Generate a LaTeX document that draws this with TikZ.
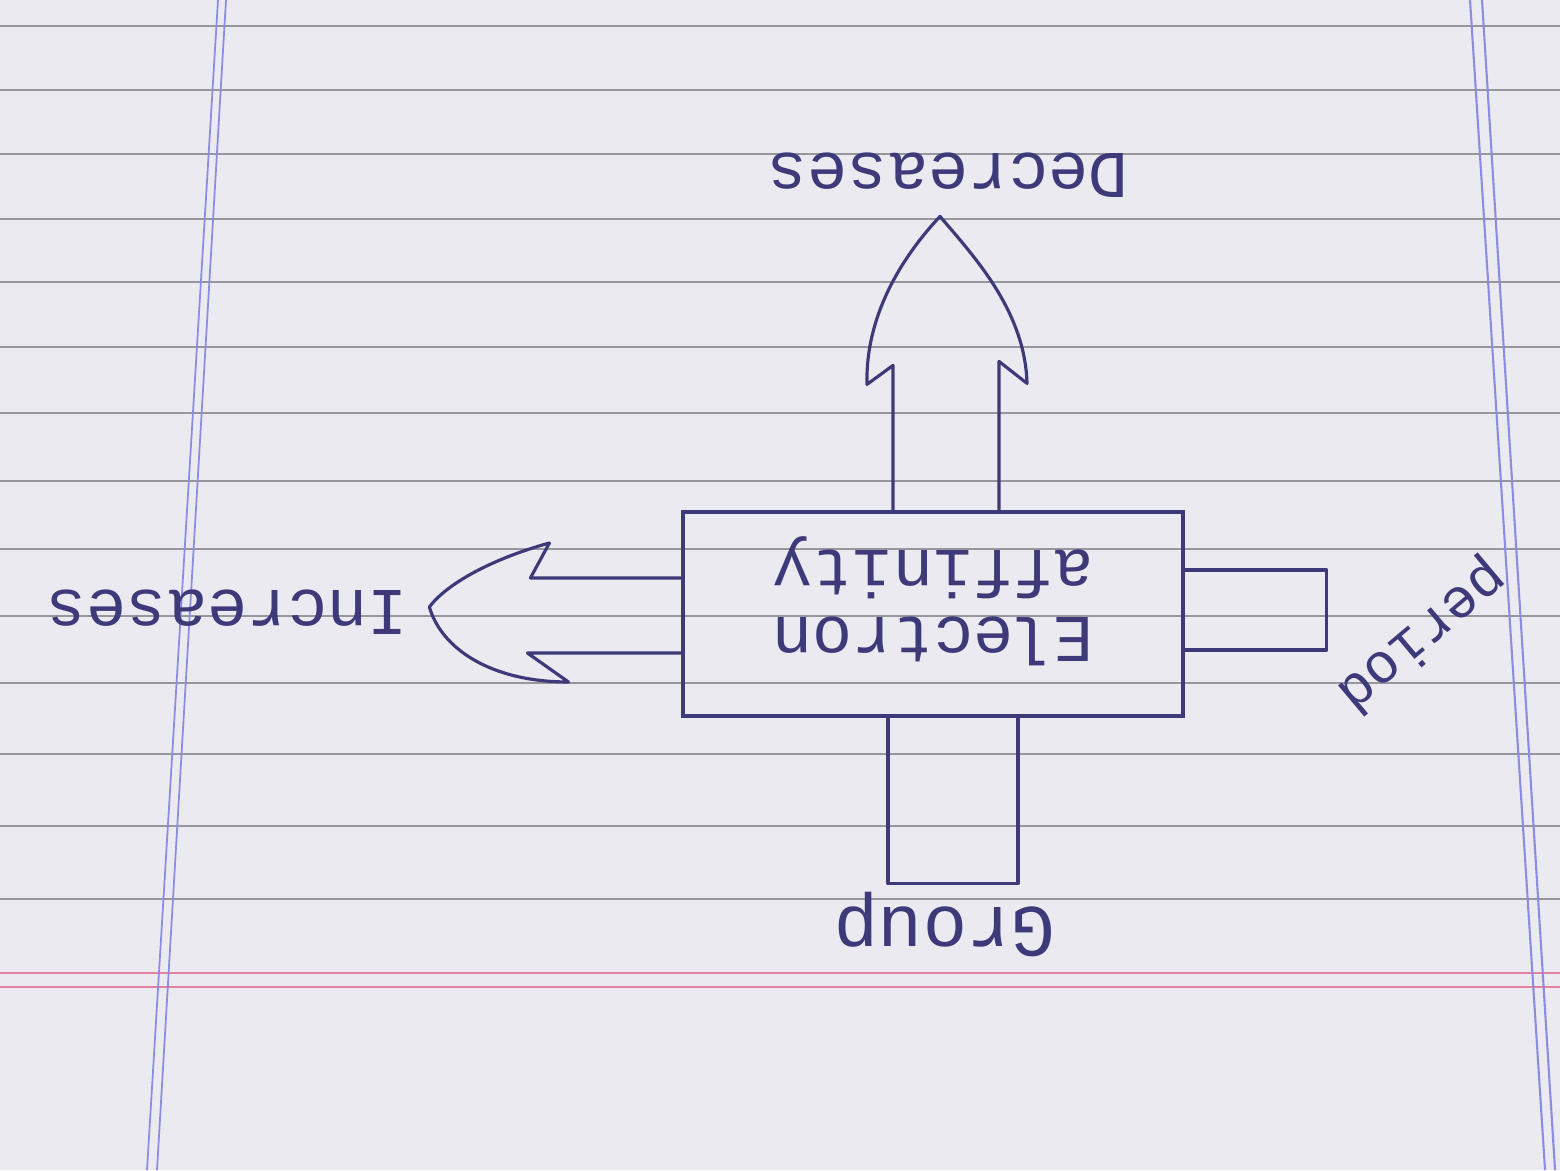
\documentclass[tikz,border=0pt]{standalone}
\usepackage{fontspec}
\newfontfamily\handfont{Liberation Mono}
\usepackage{xcolor}
\usepackage{tikz}
\usetikzlibrary{positioning}

\definecolor{ink}{RGB}{62,58,122}
\definecolor{paper}{RGB}{234,234,240}
\definecolor{rulegray}{RGB}{150,150,156}
\definecolor{marginblue}{RGB}{140,140,225}
\definecolor{marginred}{RGB}{228,130,160}

\begin{document}
\begin{tikzpicture}[
    eabox/.style={rectangle, draw=ink, line width=0.9pt, minimum width=5cm,
                minimum height=2.04cm, inner sep=0pt},
    lbl/.style={font=\handfont\fontsize{19}{19}\selectfont, text=ink,
                inner sep=0pt, align=center},
    pen/.style={draw=ink, line width=0.9pt, line join=round},
    ruling/.style={draw=rulegray, line width=0.5pt}
]
\useasboundingbox (0,0) rectangle (15.6,11.7);

% === PAPER ===
\fill[paper] (0,0) rectangle (15.6,11.7);
\foreach \py in {26,90,154,219,282,347,413,481,549,616,683,754,826,899}
    \draw[ruling] (0,{11.7-\py/100}) -- (15.6,{11.7-\py/100});
\foreach \py in {973,987}
    \draw[marginred, line width=0.5pt] (0,{11.7-\py/100}) -- (15.6,{11.7-\py/100});
\draw[marginblue, line width=0.5pt] (2.18,11.7) -- (1.47,0);
\draw[marginblue, line width=0.5pt] (2.26,11.7) -- (1.57,0);
\draw[marginblue, line width=0.6pt] (14.70,11.7) -- (15.45,0);
\draw[marginblue, line width=0.6pt] (14.82,11.7) -- (15.55,0);

% === BOX ===
\node[eabox] (ea) at (9.33,5.56) {};
\node[lbl, rotate=180] (eatext) at ([yshift=0.13cm]ea.center) {Electron\\affinity};

% === DECREASES ARROW ===
\begin{scope}[shift={(ea.north)}]
\draw[pen] (-0.40,0) -- (-0.40,1.45) -- (-0.66,1.26)
    .. controls (-0.68,2.0) and (-0.25,2.6) .. (0.07,2.94)
    .. controls (0.4,2.55) and (0.92,2.0) .. (0.94,1.27)
    -- (0.66,1.49) -- (0.66,0);
\end{scope}

% === INCREASES ARROW ===
\begin{scope}[shift={(ea.west)}]
\draw[pen] (0,0.36) -- (-1.51,0.36) -- (-1.32,0.71)
    .. controls (-1.9,0.55) and (-2.35,0.3) .. (-2.52,0.07)
    .. controls (-2.4,-0.35) and (-1.9,-0.68) .. (-1.13,-0.68)
    -- (-1.54,-0.39) -- (0,-0.39);
\end{scope}

% === TAILS ===
\begin{scope}[shift={(ea.east)}]
\draw[pen] (0,0.44) -- (1.42,0.44) -- (1.42,-0.36) -- (0,-0.36);
\end{scope}
\begin{scope}[shift={(ea.south)}]
\draw[pen] (-0.45,0) -- (-0.45,-1.66) -- (0.85,-1.66) -- (0.85,0);
\end{scope}

% === LABELS ===
\node[lbl, rotate=180] (dec) at (9.48,9.95) {Decreases};
\node[lbl, rotate=180] (inc) at (2.27,5.58) {Increases};
\node[lbl, rotate=180, font=\handfont\fontsize{21}{21}\selectfont] (grp) at (9.45,2.45) {Group};
\node[lbl, rotate=220, font=\handfont\fontsize{16}{16}\selectfont] (per) at (14.21,5.35) {period};

\end{tikzpicture}
\end{document}
